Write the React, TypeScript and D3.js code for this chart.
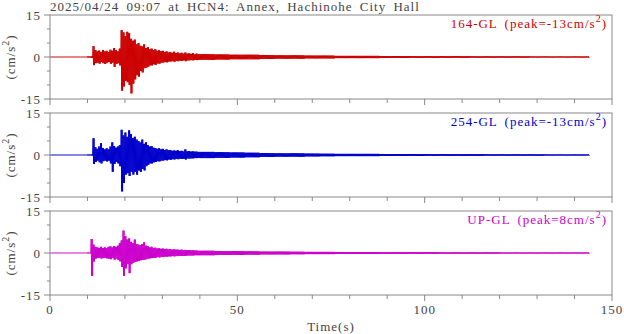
import * as d3 from "d3"

// record header and channels
const title = "2025/04/24 09:07 at HCN4: Annex, Hachinohe City Hall"
const channels = ["164-GL", "254-GL", "UP-GL"]
const peaks = [-13, -13, 8]
const colors = ["#cc0000", "#0000cc", "#cc00cc"]

const yTicks = [-15, 0, 15]
const yMinor = [-10, -5, 5, 10]
const xTicks = [0, 50, 100, 150]
const xMinor = [10, 20, 30, 40, 60, 70, 80, 90, 110, 120, 130, 140]

// time layout of the envelope arrays (s)
const quietEnd = 10
const strongStep = 0.5
const tailStart = 40
const tailStep = 4
const recordEnd = 144
const quietAmp = [0.1, 0.1, 0.1]

// 164-GL: max / min per 0.5 s from 10 s to 40 s, then +/- amplitude per 4 s
const hi164 = [0.2, 0.2, 0.3, 3.9, 2.5, 2.0, 2.3, 1.8, 2.5, 2.0, 2.2, 1.8, 2.6, 2.2, 3.2, 2.4, 2.0, 3.0,
  9.6, 8.8, 7.5, 9.0, 8.5, 6.5, 5.8, 6.2, 4.5, 5.0, 4.0, 3.8, 4.5, 3.2, 3.5, 2.8, 3.0, 2.5, 2.8, 2.2,
  2.4, 2.0, 2.2, 1.8, 2.0, 1.6, 1.8, 1.5, 1.9, 1.4, 1.6, 1.3, 1.5, 1.2, 1.6, 1.2, 1.3, 1.1, 1.4, 1.0, 1.2, 1.0]
const lo164 = [-0.2, -0.2, -0.3, -2.9, -2.2, -2.0, -2.4, -1.8, -2.2, -2.5, -2.0, -1.8, -2.4, -2.0, -3.5, -2.5, -2.2, -3.0,
  -12.0, -10.5, -8.5, -9.0, -10.0, -13.0, -9.5, -8.0, -6.5, -7.0, -5.0, -5.5, -4.0, -3.8, -3.5, -3.0, -3.0, -2.6, -2.8, -2.3,
  -2.4, -2.0, -2.0, -1.8, -1.9, -1.6, -1.6, -1.5, -1.7, -1.4, -1.5, -1.3, -1.4, -1.2, -1.5, -1.2, -1.2, -1.1, -1.2, -1.0, -1.1, -1.0]
const tail164 = [1.0, 0.9, 0.8, 0.8, 0.7, 0.6, 0.6, 0.5, 0.5, 0.4, 0.4, 0.4, 0.35, 0.35, 0.3, 0.3, 0.3, 0.3,
  0.25, 0.25, 0.25, 0.25, 0.2, 0.2, 0.2, 0.2]

// 254-GL
const hi254 = [0.15, 0.15, 0.2, 6.0, 2.8, 2.2, 3.0, 4.2, 2.5, 2.0, 2.4, 2.0, 3.0, 4.5, 3.2, 2.6, 3.0, 3.5,
  9.0, 7.0, 8.0, 6.5, 8.8, 7.5, 6.0, 6.5, 5.5, 5.0, 4.5, 5.5, 4.0, 4.5, 3.5, 3.0, 3.2, 2.6, 2.5, 2.2,
  2.4, 2.0, 2.2, 1.8, 2.0, 1.7, 1.8, 1.5, 1.6, 1.5, 1.7, 1.4, 1.5, 1.3, 2.0, 1.3, 1.4, 1.2, 1.3, 1.2, 1.2, 1.1]
const lo254 = [-0.15, -0.15, -0.2, -3.2, -2.5, -2.0, -2.6, -3.0, -2.2, -2.0, -2.3, -2.0, -3.0, -6.0, -3.2, -2.5, -3.0, -4.0,
  -13.0, -10.0, -7.0, -6.5, -7.5, -6.0, -7.0, -6.0, -7.0, -5.5, -6.0, -5.0, -5.5, -4.0, -3.5, -3.0, -3.0, -2.6, -2.5, -2.2,
  -2.3, -2.0, -2.0, -1.8, -1.9, -1.6, -1.7, -1.5, -1.6, -1.4, -1.5, -1.3, -1.4, -1.3, -1.6, -1.2, -1.3, -1.2, -1.2, -1.1, -1.1, -1.0]
const tail254 = [1.1, 1.0, 0.9, 0.8, 0.7, 0.6, 0.6, 0.5, 0.45, 0.4, 0.4, 0.4, 0.35, 0.35, 0.35, 0.3, 0.3, 0.3,
  0.3, 0.25, 0.25, 0.25, 0.25, 0.2, 0.2, 0.2]

// UP-GL
const hiUP = [0.15, 0.15, 5.0, 3.0, 2.2, 2.0, 1.8, 2.2, 1.8, 2.0, 1.8, 2.2, 2.4, 2.0, 2.5, 2.2, 2.6, 3.5,
  4.5, 8.0, 6.0, 4.8, 5.2, 4.0, 3.5, 4.8, 3.2, 3.0, 2.8, 3.2, 3.8, 2.6, 2.4, 2.0, 2.2, 1.8, 1.9, 1.6,
  1.7, 1.5, 1.6, 1.4, 1.5, 1.3, 1.4, 1.2, 1.3, 1.2, 1.2, 1.1, 1.2, 1.0, 1.1, 1.0, 1.0, 0.9, 1.0, 0.9, 0.9, 0.8]
const loUP = [-0.15, -0.15, -8.2, -3.0, -2.0, -1.8, -1.7, -2.0, -1.8, -1.7, -1.9, -2.0, -2.2, -1.8, -2.4, -2.0, -2.5, -3.0,
  -5.0, -8.2, -5.5, -4.0, -7.2, -4.0, -3.5, -3.2, -3.0, -2.8, -2.6, -2.5, -2.4, -2.2, -2.0, -1.9, -1.8, -1.7, -1.7, -1.5,
  -1.6, -1.4, -1.4, -1.3, -1.3, -1.2, -1.2, -1.1, -1.2, -1.1, -1.1, -1.0, -1.0, -1.0, -1.0, -0.9, -0.9, -0.9, -0.9, -0.8, -0.8, -0.8]
const tailUP = [0.8, 0.7, 0.7, 0.6, 0.5, 0.5, 0.45, 0.4, 0.4, 0.35, 0.35, 0.35, 0.3, 0.3, 0.3, 0.3, 0.25, 0.25,
  0.25, 0.25, 0.2, 0.2, 0.2, 0.2, 0.2, 0.2]

const highs = [hi164, hi254, hiUP]
const lows = [lo164, lo254, loUP]
const tails = [tail164, tail254, tailUP]

const W = 624
const H = 334
const left = 50
const right = 612
const panelTop = [15, 113, 211]
const panelH = 84
const font = "'Liberation Serif', 'Times New Roman', serif"
const textColor = "#444"
const frameColor = "#888"
const drawStep = 0.125

type Bin = { t0: number; t1: number; hi: number; lo: number }

// envelope bins for one channel
const makeBins = (i: number): Bin[] => {
  const b: Bin[] = [{ t0: 0, t1: quietEnd, hi: quietAmp[i], lo: -quietAmp[i] }]
  highs[i].forEach((h, k) => b.push({ t0: quietEnd + k * strongStep, t1: quietEnd + (k + 1) * strongStep, hi: h, lo: lows[i][k] }))
  tails[i].forEach((a, k) => b.push({ t0: tailStart + k * tailStep, t1: Math.min(tailStart + (k + 1) * tailStep, recordEnd), hi: a, lo: -a }))
  return b
}

// draw each bin as an oscillation between its max and min
const tracePoints = (b: Bin[]): [number, number][] => {
  const pts: [number, number][] = []
  let k = 0
  b.forEach(d => {
    for (let t = d.t0; t < d.t1 - 1e-9; t += drawStep) {
      pts.push([t, k % 2 === 0 ? d.hi : d.lo])
      k++
    }
  })
  pts.push([recordEnd, 0])
  return pts
}

const x = d3.scaleLinear().domain([0, 150]).range([left, right])

const Sup = ({ base }: { base: string }) => (
  <>
    {base}
    <tspan dy={-6} fontSize={10}>2</tspan>
    <tspan dy={6}>)</tspan>
  </>
)

const textStyle = { letterSpacing: "1px", wordSpacing: "3px" }

const App = () => {
  return (
    <svg width={W} height={H} style={{ position: "absolute", left: 0, top: 0, background: "#fff" }}
      fontFamily={font}>
      <text x={left} y={11} fontSize={13} fill={textColor} style={textStyle}>{title}</text>
      {channels.map((ch, i) => {
        const top = panelTop[i]
        const y = d3.scaleLinear().domain([-15, 15]).range([top + panelH, top])
        const line = d3.line<[number, number]>().x(d => x(d[0])).y(d => y(d[1]))
        const pts = tracePoints(makeBins(i))
        return (
          <g key={ch}>
            <path d={line(pts) ?? ""} fill="none" stroke={colors[i]} strokeWidth={1} />
            <rect x={left} y={top} width={right - left} height={panelH} fill="none" stroke={frameColor} strokeWidth={1} />
            {yTicks.map(v => (
              <g key={v}>
                <line x1={left - 6} x2={left} y1={y(v)} y2={y(v)} stroke={frameColor} />
                <text x={left - 9} y={y(v)} dy="0.35em" textAnchor="end" fontSize={13} fill={textColor} style={textStyle}>{v}</text>
              </g>
            ))}
            {yMinor.map(v => (
              <line key={v} x1={left - 3} x2={left} y1={y(v)} y2={y(v)} stroke={frameColor} />
            ))}
            {xTicks.map(v => (
              <line key={v} x1={x(v)} x2={x(v)} y1={top + panelH} y2={top + panelH + 6} stroke={frameColor} />
            ))}
            {xMinor.map(v => (
              <line key={v} x1={x(v)} x2={x(v)} y1={top + panelH} y2={top + panelH + 4} stroke={frameColor} />
            ))}
            <text x={right - 5} y={top + 13} textAnchor="end" fontSize={13} fill={colors[i]} style={textStyle}>
              <Sup base={`${ch} (peak=${peaks[i]}cm/s`} />
            </text>
            <text transform={`translate(15, ${top + panelH / 2}) rotate(-90)`} textAnchor="middle" fontSize={13}
              fill={textColor} style={textStyle}>
              <Sup base="(cm/s" />
            </text>
          </g>
        )
      })}
      {xTicks.map(v => (
        <text key={v} x={x(v)} y={314} textAnchor="middle" fontSize={13} fill={textColor} style={textStyle}>{v}</text>
      ))}
      <text x={x(75)} y={331} textAnchor="middle" fontSize={13} fill={textColor} style={textStyle}>Time(s)</text>
    </svg>
  )
}

export default App
